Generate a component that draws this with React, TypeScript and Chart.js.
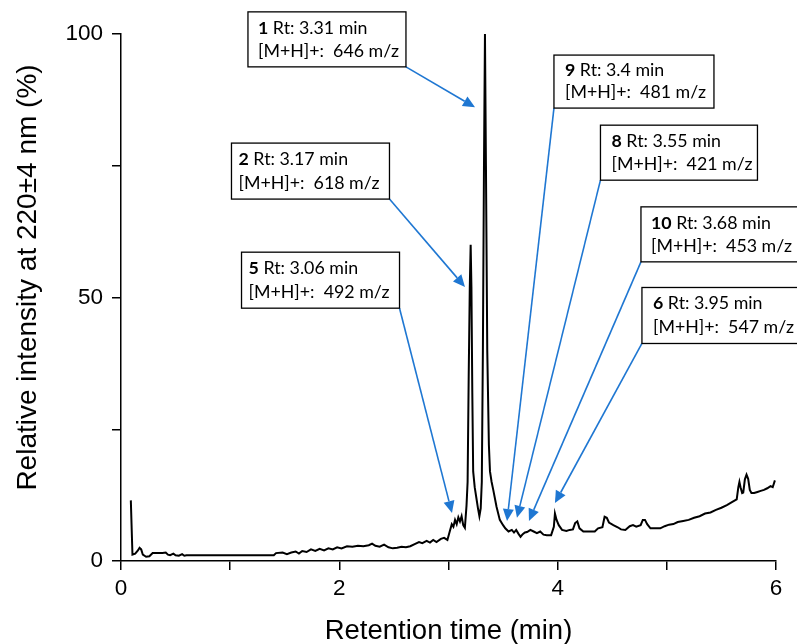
import { useEffect, useRef } from 'react';
import { Chart, registerables } from 'chart.js';
Chart.register(...registerables);

// Retention time (min)
const times = [
  0.09, 0.105, 0.13, 0.155, 0.17, 0.185, 0.2, 0.23, 0.26, 0.29, 0.33, 0.38, 0.41, 0.43, 0.45, 0.48, 0.5, 0.53, 0.56, 0.58, 0.6,
  1.0, 1.4, 1.42, 1.48, 1.52, 1.56, 1.6, 1.63, 1.66, 1.7, 1.74, 1.78, 1.82, 1.86, 1.9, 1.94, 1.98, 2.02, 2.07, 2.12, 2.17,
  2.22, 2.27, 2.3, 2.33, 2.37, 2.41, 2.45, 2.49, 2.53, 2.57, 2.61, 2.65, 2.69, 2.73, 2.76, 2.8, 2.83, 2.86, 2.89, 2.93,
  2.96, 2.99, 3.01, 3.03, 3.045, 3.06, 3.075, 3.09, 3.105, 3.12, 3.135, 3.15, 3.165, 3.175, 3.185, 3.195, 3.203, 3.21,
  3.218, 3.226, 3.24, 3.255, 3.27, 3.283, 3.295, 3.305, 3.315, 3.325, 3.334, 3.343, 3.355, 3.37, 3.38, 3.395, 3.41, 3.44,
  3.47, 3.5, 3.52, 3.55, 3.58, 3.6, 3.62, 3.64, 3.66, 3.68, 3.7, 3.72, 3.75, 3.78, 3.81, 3.84, 3.87, 3.9, 3.94, 3.965,
  3.975, 3.99, 4.01, 4.04, 4.08, 4.11, 4.14, 4.16, 4.18, 4.2, 4.235, 4.28, 4.34, 4.37, 4.41, 4.43, 4.45, 4.47, 4.51, 4.55,
  4.58, 4.62, 4.66, 4.69, 4.72, 4.76, 4.78, 4.8, 4.82, 4.85, 4.9, 4.94, 4.98, 5.02, 5.06, 5.1, 5.15, 5.2, 5.25, 5.3, 5.35,
  5.4, 5.45, 5.5, 5.55, 5.6, 5.64, 5.655, 5.665, 5.675, 5.69, 5.7, 5.715, 5.73, 5.745, 5.76, 5.775, 5.8, 5.83, 5.86, 5.89,
  5.92, 5.95, 5.97, 5.99,
];
// Relative intensity (%)
const intensity = [
  11.5, 1.2, 1.4, 2.0, 2.5, 2.2, 1.2, 0.8, 0.9, 1.5, 1.5, 1.5, 1.6, 1.2, 1.1, 1.4, 1.1, 1.0, 1.3, 1.0, 1.1,
  1.1, 1.1, 1.5, 1.6, 1.3, 1.6, 1.8, 1.4, 1.9, 1.7, 2.2, 1.9, 2.3, 2.0, 2.4, 2.2, 2.6, 2.4, 2.8, 2.7, 2.9,
  2.8, 3.0, 3.3, 2.9, 2.7, 3.1, 2.6, 2.4, 2.5, 2.7, 2.6, 2.8, 3.2, 3.6, 3.4, 3.8, 3.5, 4.0, 3.6, 4.2,
  4.4, 4.0, 5.5, 7.0, 6.5, 7.8, 7.0, 8.3, 7.5, 8.5, 6.8, 6.3, 10.5, 15, 35, 52, 60, 52,
  32, 17, 14, 12, 10, 8.5, 10, 15, 40, 75, 100, 75, 40, 22, 17, 15, 13.5, 10.3,
  7.8, 6.8, 6.2, 5.6, 5.9, 5.4, 5.9, 5.2, 4.6, 5.1, 5.4, 5.5, 5.9, 5.6, 5.3, 5.6, 5.0, 4.9, 4.9, 6.5,
  9.0, 7.8, 6.8, 5.9, 5.7, 5.9, 6.0, 7.2, 7.5, 6.2, 5.6, 5.6, 5.6, 6.2, 6.4, 8.4, 8.2, 7.3, 6.8, 6.4,
  6.0, 5.9, 6.6, 6.8, 6.5, 6.8, 7.8, 7.8, 7.0, 6.2, 6.2, 6.2, 6.6, 6.9, 7.0, 7.4, 7.6, 7.8, 8.2, 8.5, 9.0,
  9.2, 9.7, 10.1, 10.6, 11.2, 11.7, 14.0, 15.0, 14.0, 12.9, 13.0, 15.5, 16.4, 15.6, 13.5, 12.9, 12.9, 13.1, 13.3, 13.5,
  13.8, 14.2, 14.0, 15.3,
];

const xTitle = 'Retention time (min)';
const yTitle = 'Relative intensity at 220±4 nm (%)';

// Annotations: compound, retention time, m/z
const annCompound = ['1', '2', '5', '9', '8', '10', '6'];
const annRt = ['3.31', '3.17', '3.06', '3.4', '3.55', '3.68', '3.95'];
const annMz = ['646', '618', '492', '481', '421', '453', '547'];
// arrow tips (data coords)
const annTipX = [3.243, 3.151, 3.032, 3.536, 3.627, 3.737, 3.975];
const annTipY = [86.1, 52.0, 9.1, 7.6, 8.2, 7.6, 11.0];
// box top-left (data coords) + layout
const annBoxX = [1.163, 1.012, 1.104, 3.966, 4.392, 4.763, 4.772];
const annBoxY = [104.2, 79.3, 58.6, 96.0, 82.7, 67.2, 51.9];
const annBoxW = [158, 158, 158, 160, 157, 160, 160];
const annBoxH = [55, 56, 56, 53, 55, 55, 56];
const annPad = [10, 7, 7, 11, 11, 10, 11];
const annCorner = ['br', 'br', 'br', 'bl', 'bl', 'bl', 'bl'];

const ARROW = '#1f77d2';
const BOXFONT = 'Lato, "Open Sans", sans-serif';
const AXFONT = '"Liberation Sans", Arial, sans-serif';

function drawArrow(c: CanvasRenderingContext2D, x1: number, y1: number, x2: number, y2: number) {
  const ang = Math.atan2(y2 - y1, x2 - x1);
  const L = 12, W = 5.5;
  const bx = x2 - L * Math.cos(ang), by = y2 - L * Math.sin(ang);
  c.beginPath();
  c.moveTo(x1, y1);
  c.lineTo(bx, by);
  c.stroke();
  c.beginPath();
  c.moveTo(x2, y2);
  c.lineTo(bx + W * Math.sin(ang), by - W * Math.cos(ang));
  c.lineTo(bx - W * Math.sin(ang), by + W * Math.cos(ang));
  c.closePath();
  c.fill();
}

export default function App() {
  const ref = useRef<HTMLCanvasElement>(null);
  useEffect(() => {
    const canvas = ref.current!;
    const annPlugin = {
      id: 'annotations',
      afterDraw(chart: any) {
        const c: CanvasRenderingContext2D = chart.ctx;
        const xs = chart.scales.x, ys = chart.scales.y;
        const ca = chart.chartArea;
        c.save();
        // axis titles
        c.fillStyle = '#000';
        c.textAlign = 'center';
        c.textBaseline = 'alphabetic';
        c.font = `27.5px ${AXFONT}`;
        c.fillText(xTitle, (ca.left + ca.right) / 2, 639);
        c.save();
        c.translate(36, 277.5);
        c.rotate(-Math.PI / 2);
        c.font = `28px ${AXFONT}`;
        c.fillText(yTitle, 0, 0);
        c.restore();

        // arrows and boxes
        for (let i = 0; i < annCompound.length; i++) {
          const bx = xs.getPixelForValue(annBoxX[i]);
          const by = ys.getPixelForValue(annBoxY[i]);
          const w = annBoxW[i], h = annBoxH[i];
          const sx = annCorner[i] === 'br' ? bx + w : bx;
          const sy = by + h;
          const tx = xs.getPixelForValue(annTipX[i]);
          const ty = ys.getPixelForValue(annTipY[i]);
          c.strokeStyle = ARROW;
          c.fillStyle = ARROW;
          c.lineWidth = 1.6;
          drawArrow(c, sx, sy, tx, ty);

          c.fillStyle = '#fff';
          c.fillRect(bx, by, w, h);
          c.strokeStyle = '#000';
          c.lineWidth = 1.3;
          c.strokeRect(bx, by, w, h);

          c.fillStyle = '#000';
          c.textAlign = 'left';
          c.textBaseline = 'middle';
          const tx0 = bx + annPad[i];
          const l1 = by + h * 0.29;
          const l2 = by + h * 0.71;
          c.font = `bold 17.8px ${BOXFONT}`;
          const num = annCompound[i];
          c.fillText(num, tx0, l1);
          const nw = c.measureText(num).width;
          c.font = `17.8px ${BOXFONT}`;
          c.fillText(` Rt: ${annRt[i]} min`, tx0 + nw, l1);
          c.fillText(`[M+H]+:  ${annMz[i]} m/z`, tx0, l2);
        }
        c.restore();
      },
    };

    const chart = new Chart(canvas, {
      type: 'line',
      data: {
        datasets: [
          {
            data: times.map((t, i) => ({ x: t, y: intensity[i] })),
            borderColor: '#000',
            borderWidth: 2,
            pointRadius: 0,
            tension: 0,
            fill: false,
            clip: 4,
          } as any,
        ],
      },
      options: {
        animation: false,
        responsive: false,
        layout: { padding: { top: 34, right: 21, left: 0, bottom: 0 } },
        plugins: { legend: { display: false }, tooltip: { enabled: false } },
        scales: {
          x: {
            type: 'linear',
            min: 0,
            max: 6,
            afterFit: (s: any) => { s.height = 83; },
            border: { display: true, color: '#000', width: 1.5 },
            grid: { display: true, drawOnChartArea: false, drawTicks: true, tickLength: 9, color: '#000', lineWidth: 1.5 },
            ticks: {
              stepSize: 1,
              autoSkip: false,
              maxRotation: 0,
              padding: 5,
              color: '#000',
              font: { family: AXFONT, size: 22.5 },
              callback: (v: any) => (Number(v) % 2 === 0 ? String(v) : ''),
            },
          },
          y: {
            type: 'linear',
            min: 0,
            max: 100,
            afterFit: (s: any) => { s.width = 121; },
            border: { display: true, color: '#000', width: 1.5 },
            grid: { display: true, drawOnChartArea: false, drawTicks: true, tickLength: 9, color: '#000', lineWidth: 1.5 },
            ticks: {
              stepSize: 25,
              autoSkip: false,
              padding: 9,
              color: '#000',
              font: { family: AXFONT, size: 22.5 },
              callback: (v: any) => (Number(v) % 50 === 0 ? String(v) : ''),
            },
          },
        },
      },
      plugins: [annPlugin],
    });
    return () => chart.destroy();
  }, []);

  return (
    <div style={{ position: 'fixed', left: 0, top: 0, width: 797, height: 644, background: '#fff' }}>
      <canvas ref={ref} width={797} height={644} style={{ display: 'block' }} />
    </div>
  );
}
